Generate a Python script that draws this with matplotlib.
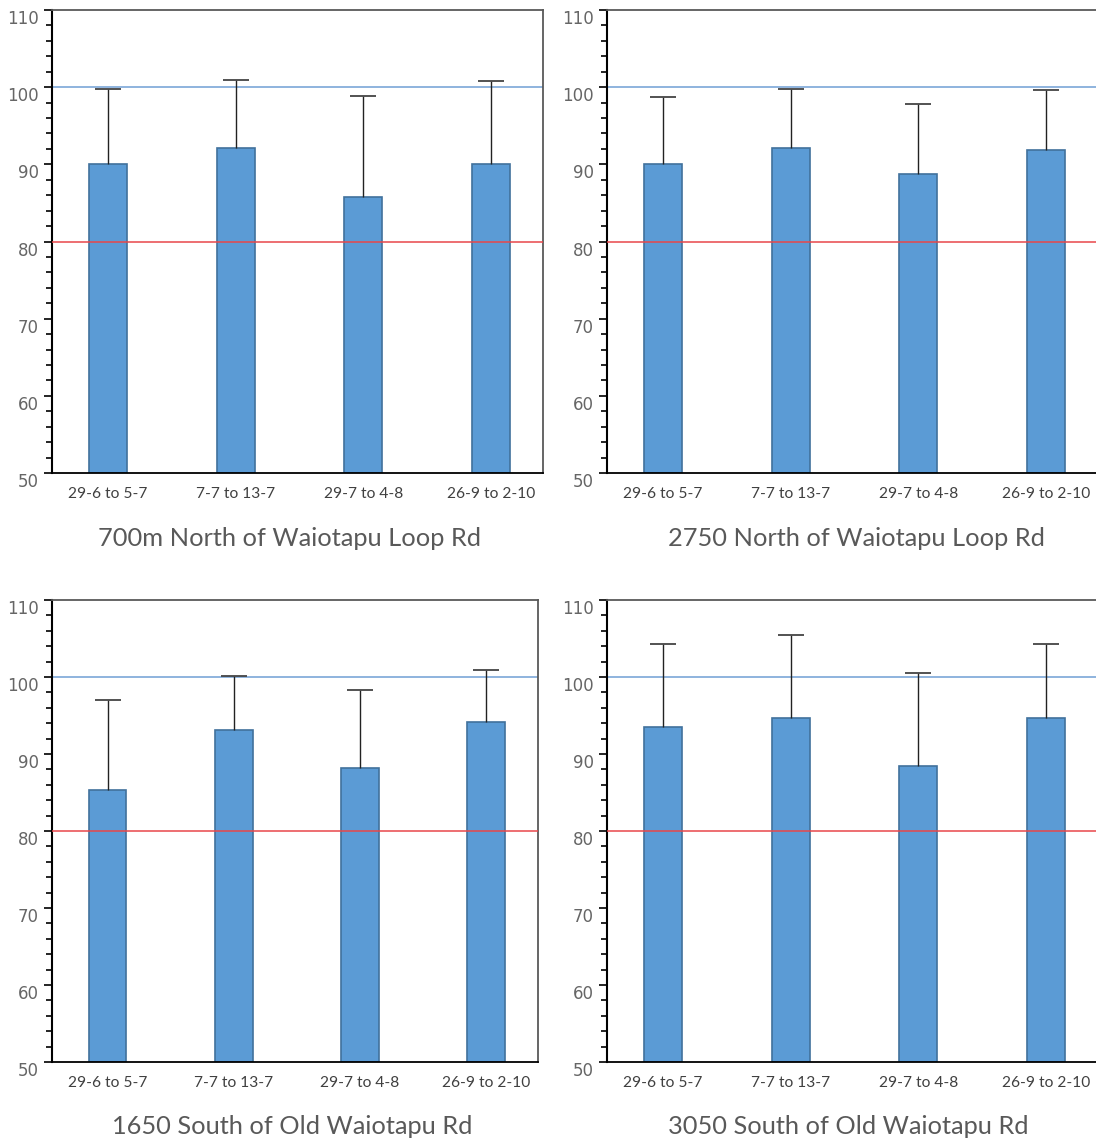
import matplotlib
matplotlib.use("Agg")
import matplotlib.pyplot as plt
import matplotlib.transforms as mtransforms
from matplotlib.ticker import MultipleLocator

# data
periods = ["29-6 to 5-7", "7-7 to 13-7", "29-7 to 4-8", "26-9 to 2-10"]
titles = ["700m North of Waiotapu Loop Rd", "2750 North of Waiotapu Loop Rd",
          "1650 South of Old Waiotapu Rd", "3050 South of Old Waiotapu Rd"]
mean_700n = [90.1, 92.1, 85.8, 90.1]
top_700n = [99.7, 100.9, 98.8, 100.8]
mean_2750n = [90.1, 92.1, 88.7, 91.8]
top_2750n = [98.7, 99.7, 97.8, 99.6]
mean_1650s = [85.3, 93.1, 88.2, 94.2]
top_1650s = [97.0, 100.1, 98.3, 100.9]
mean_3050s = [93.5, 94.7, 88.4, 94.7]
top_3050s = [104.3, 105.5, 100.5, 104.3]
upper_ref = 100
lower_ref = 80

means = [mean_700n, mean_2750n, mean_1650s, mean_3050s]
tops = [top_700n, top_2750n, top_1650s, top_3050s]

W, H = 1096, 1142
fig = plt.figure(figsize=(W / 100, H / 100), dpi=100)

# axes boxes in pixels: left, top, right, bottom
boxes = [(52, 10, 543, 473), (607, 10, 1098, 473),
         (52, 600, 538, 1062), (607, 600, 1098, 1062)]
title_pos = [(289, 538), (856, 538), (292, 1127), (848, 1127)]

bar_c = "#5B9BD5"
edge_c = "#41719C"
grey = "#595959"

for i, (l, t, r, b) in enumerate(boxes):
    ax = fig.add_axes([l / W, 1 - b / H, (r - l) / W, (b - t) / H])
    x = list(range(len(periods)))
    m = means[i]
    ax.bar(x, [v - 50 for v in m], bottom=50, width=0.3, color=bar_c,
           edgecolor=edge_c, linewidth=1.2, zorder=2)
    # upper error bars only
    ax.vlines(x, m, tops[i], color="#222222", lw=1, zorder=3)
    ax.plot(x, tops[i], ls="none", marker="_", markersize=19,
            markeredgewidth=1.3, color="#444444", zorder=3)
    ax.axhline(upper_ref, color="#86AEDB", lw=1.3, zorder=1)
    ax.axhline(lower_ref, color="#E8474A", lw=1.1, zorder=4)

    ax.set_xlim(-0.44, 3.41)
    ax.set_ylim(50, 110)
    ax.yaxis.set_major_locator(MultipleLocator(10))
    ax.yaxis.set_minor_locator(MultipleLocator(2))
    ax.tick_params(axis="y", which="major", direction="out", length=5.8,
                   width=1.2, color="black", labelsize=12, labelcolor="#666666",
                   pad=3.5, labelfontfamily="DejaVu Sans")
    ax.tick_params(axis="y", which="minor", direction="out", length=4.3,
                   width=1.2, color="black")
    for lab in ax.get_yticklabels():
        lab.set_transform(lab.get_transform() +
                          mtransforms.ScaledTranslation(0, -7 / 100, fig.dpi_scale_trans))
    ax.set_xticks(x)
    ax.set_xticklabels(periods, fontsize=11.2, color="#404040", family="Lato")
    ax.tick_params(axis="x", length=0, pad=10)

    ax.spines["left"].set_color("black")
    ax.spines["left"].set_linewidth(1.5)
    ax.spines["bottom"].set_color("black")
    ax.spines["bottom"].set_linewidth(1.3)
    for s in ("top", "right"):
        ax.spines[s].set_color(grey)
        ax.spines[s].set_linewidth(1.3)

    tx, ty = title_pos[i]
    fig.text(tx / W, 1 - ty / H, titles[i], ha="center", va="center",
             fontsize=18.3, color=grey, family="Lato")

fig.savefig("out.png", dpi=100)
